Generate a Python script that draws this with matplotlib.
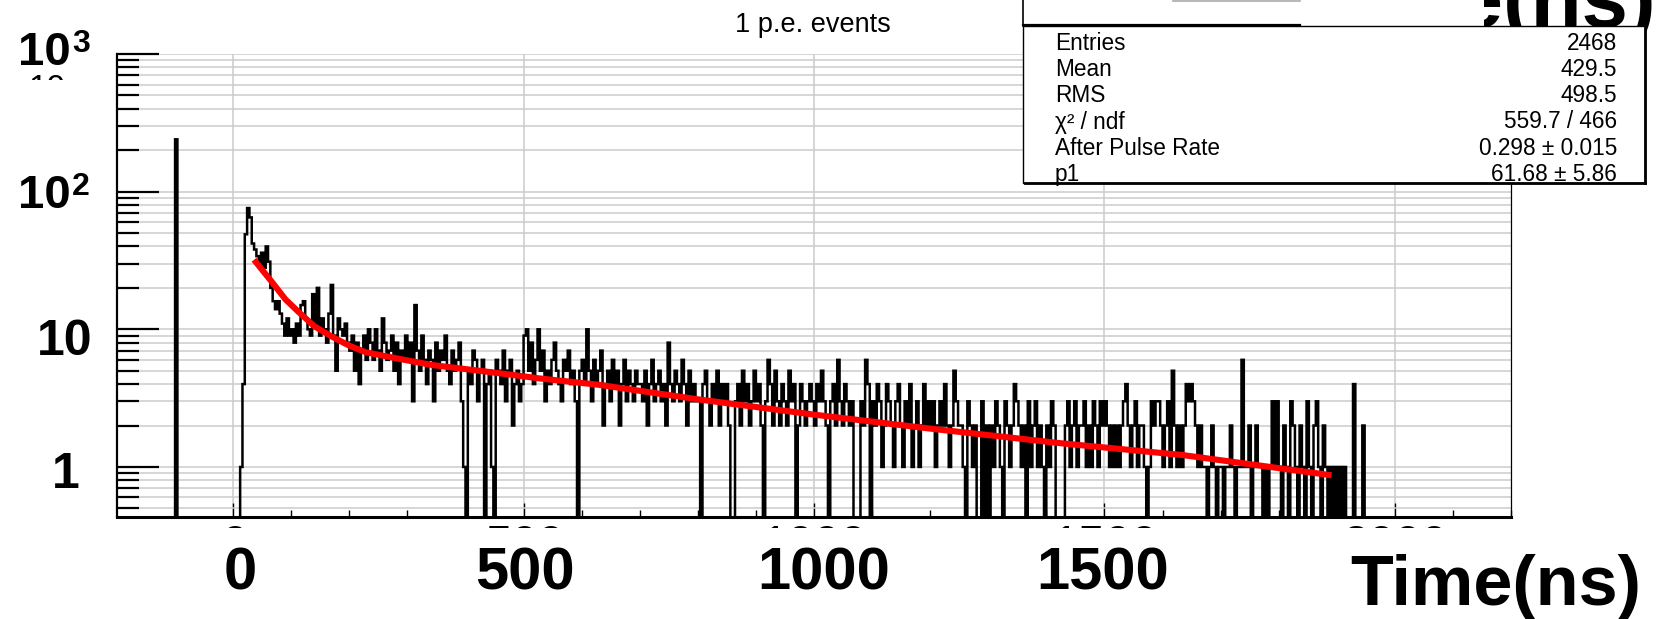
import numpy as np
import matplotlib
matplotlib.use("Agg")
import matplotlib.pyplot as plt
from matplotlib.patches import Rectangle
from matplotlib.lines import Line2D

W, H = 1660, 619
FONT = "Liberation Sans"

# ---------------- data ----------------
bin_width = 4            # ns
first_bin_start = 0      # ns
spike_time = -100        # ns (pre-trigger spike)
spike_count = 240

counts_0000 = [0,0,0,1,4,49,76,65,42,38,34,30,36,28,40,31,20,16,14,16,13,11,9,12,9]
counts_0100 = [10,8,11,9,15,16,12,10,9,18,11,20,9,12,10,8,13,21,9,5,12,10,9,11,8]
counts_0200 = [7,9,5,8,4,7,9,6,10,8,6,10,7,5,12,8,6,7,9,5,8,4,7,6,9]
counts_0300 = [6,8,3,15,7,5,9,6,4,7,6,3,8,5,7,6,9,5,4,7,5,6,8,3,1]
counts_0400 = [0,5,4,7,6,3,5,6,0,4,5,1,0,6,5,4,7,3,5,6,2,4,5,3,4]
counts_0500 = [9,10,5,8,4,6,10,5,7,3,5,4,6,8,5,4,3,6,5,7,4,5,3,0,5]
counts_0600 = [6,4,10,5,3,6,4,5,7,2,4,5,3,6,4,5,2,4,6,3,5,4,3,5,4]
counts_0700 = [4,3,5,2,4,6,3,4,5,3,4,2,8,4,3,5,4,3,6,4,2,5,3,4,3]
counts_0800 = [3,0,4,5,3,2,4,3,5,2,4,3,4,2,0,0,3,4,2,5,3,4,2,3,5]
counts_0900 = [3,4,2,0,3,6,4,2,5,3,2,4,3,2,5,3,4,0,2,4,3,2,3,4,3]
counts_1000 = [2,4,3,5,3,2,0,3,4,2,6,3,2,4,3,2,3,0,0,0,3,2,6,4,0]
counts_1100 = [3,2,4,3,1,2,4,3,2,1,3,4,2,1,3,2,4,1,2,3,1,2,4,2,3]
counts_1200 = [2,3,1,2,3,2,4,2,1,2,5,3,2,2,1,0,3,2,1,2,0,0,3,0,2]
counts_1300 = [0,2,1,3,2,1,0,3,2,1,2,4,3,2,1,2,0,3,1,2,3,1,2,1,0]
counts_1400 = [2,1,3,2,0,0,0,0,2,3,1,2,3,1,2,2,3,1,2,1,3,2,1,3,2]
counts_1500 = [3,2,1,2,1,2,1,2,3,4,2,1,2,3,1,2,2,1,0,1,3,2,3,3,2]
counts_1600 = [1,2,3,1,5,2,1,2,1,2,4,3,4,3,2,1,2,1,1,0,1,2,1,0,1]
counts_1700 = [1,0,1,1,2,1,0,1,1,6,1,1,2,0,1,2,1,1,0,1,0,1,3,1,3]
counts_1800 = [1,0,2,1,0,3,2,1,0,2,1,0,3,1,0,2,3,1,0,2,1,0,1,0,1]
counts_1900 = [0,1,0,1,0,0,0,4,0,0,0,2,0,0,0]

# fit curve (ns, counts)
fit_t = [36, 50, 67, 90, 114, 140, 171, 200, 229, 286, 343, 458, 527, 630,
         800, 1000, 1200, 1423, 1635, 1891]
fit_v = [32, 27, 22, 16.5, 13.2, 10.5, 8.8, 7.6, 6.8, 6.1, 5.5, 4.8, 4.4, 3.95,
         3.1, 2.4, 1.9, 1.49, 1.22, 0.87]

x_tick_labels = ["0", "500", "1000", "1500"]
x_tick_values = [0, 500, 1000, 1500]
x_title = "Time(ns)"
plot_title = "1 p.e. events"
stat_names = ["Entries", "Mean", "RMS", "\u03c7\u00b2 / ndf", "After Pulse Rate", "p1"]
stat_values = ["2468", "429.5", "498.5", "559.7 / 466", "0.298 \u00b1 0.015", "61.68 \u00b1 5.86"]

# ---------------- build histogram ----------------
counts = np.array(counts_0000 + counts_0100 + counts_0200 + counts_0300 + counts_0400 +
                  counts_0500 + counts_0600 + counts_0700 + counts_0800 + counts_0900 +
                  counts_1000 + counts_1100 + counts_1200 + counts_1300 + counts_1400 +
                  counts_1500 + counts_1600 + counts_1700 + counts_1800 + counts_1900,
                  dtype=float)
lo = -200
n_pre = (first_bin_start - lo) // bin_width
pre = np.zeros(n_pre)
pre[(spike_time - lo) // bin_width] = spike_count
allc = np.concatenate([pre, counts, np.zeros(60)])
edges = lo + bin_width * np.arange(len(allc) + 1)
plotc = np.where(allc > 0, allc, 1e-3)

# ---------------- figure ----------------
fig = plt.figure(figsize=(W / 100, H / 100), dpi=100)
fig.patch.set_facecolor("white")

def fx(px):
    return px / W

def fy(py):
    return 1 - py / H

ax_l, ax_r, ax_t, ax_b = 117, 1511, 54, 517
ax = fig.add_axes([fx(ax_l), fy(ax_b), (ax_r - ax_l) / W, (ax_b - ax_t) / H])
ax.set_yscale("log")
ax.set_xlim(-200, 2200)
ax.set_ylim(0.433, 1000)

ax.stairs(plotc, edges, baseline=None, color="black", lw=1.8, zorder=3)
ax.plot(fit_t, fit_v, color="#ff0000", lw=4.4, solid_capstyle="butt", zorder=4)

# ticks / grid
ax.set_xticks([0, 500, 1000, 1500, 2000])
ax.set_xticks(np.arange(-100, 2201, 100), minor=True)
ax.set_yticks([1, 10, 100, 1000])
yminor = [m * 10.0 ** e for e in range(-1, 3) for m in range(2, 10)]
ax.set_yticks([v for v in yminor if 0.433 <= v <= 1000], minor=True)
ax.set_xticklabels([])
ax.set_yticklabels([], minor=False)
ax.set_yticklabels([], minor=True)
ax.set_xticklabels([], minor=True)
ax.grid(True, which="major", axis="x", color="#cccccc", lw=1.1, zorder=0)
ax.grid(True, which="both", axis="y", color="#cccccc", lw=1.1, zorder=0)
ax.set_axisbelow(True)
ax.tick_params(axis="x", which="major", direction="in", length=10, width=1.0,
               top=False, bottom=True)
ax.tick_params(axis="x", which="minor", direction="in", length=5, width=1.0,
               top=False, bottom=True)
ax.tick_params(axis="y", which="major", direction="in", length=30, width=1.6,
               left=True, right=False)
ax.tick_params(axis="y", which="minor", direction="in", length=16, width=1.6,
               left=True, right=False)
ax.spines["top"].set_visible(False)
ax.spines["bottom"].set_linewidth(2.2)
ax.spines["left"].set_linewidth(1.6)
ax.spines["right"].set_linewidth(0.9)

# original (mostly hidden) small x labels
for v, lab in zip([0, 500, 1000, 1500, 2000], ["0", "500", "1000", "1500", "2000"]):
    px = 234 + 0.5805 * v
    fig.text(fx(px), fy(523.5), lab, ha="center", va="top", fontsize=34,
             family=FONT, zorder=1)
fig.patches.append(Rectangle((0, 0), 1, fy(528), transform=fig.transFigure,
                             facecolor="white", edgecolor="none", zorder=2))
# original (mostly hidden) y label under 10^3
fig.text(fx(47), fy(74), "10", ha="center", va="top", fontsize=24,
         family=FONT, zorder=1)
fig.patches.append(Rectangle((0, fy(140)), fx(105), fy(79.5) - fy(140),
                             transform=fig.transFigure, facecolor="white",
                             edgecolor="none", zorder=2))

# big x labels
for cx, lab in zip([240, 525, 824, 1103], x_tick_labels):
    fig.text(fx(cx), fy(589), lab, ha="center", va="baseline", fontsize=43,
             fontweight="bold", family=FONT, zorder=5)
fig.text(fx(1350), fy(605), x_title, ha="left", va="baseline", fontsize=50.5,
         fontweight="bold", family=FONT, zorder=5)

# big y labels
fig.text(fx(71), fy(65), "10", ha="right", va="baseline", fontsize=34,
         fontweight="bold", family=FONT, zorder=5)
fig.text(fx(72), fy(52), "3", ha="left", va="baseline", fontsize=23,
         fontweight="bold", family=FONT, zorder=5)
fig.text(fx(71), fy(208), "10", ha="right", va="baseline", fontsize=34,
         fontweight="bold", family=FONT, zorder=5)
fig.text(fx(72), fy(195), "2", ha="left", va="baseline", fontsize=23,
         fontweight="bold", family=FONT, zorder=5)
fig.text(fx(65), fy(355), "10", ha="center", va="baseline", fontsize=36,
         fontweight="bold", family=FONT, zorder=5)
fig.text(fx(66), fy(488), "1", ha="center", va="baseline", fontsize=36,
         fontweight="bold", family=FONT, zorder=5)

# title
fig.text(fx(813), fy(25), plot_title, ha="center", va="center", fontsize=19.5,
         family=FONT, zorder=5)

# cropped axis title at the very top-right (only its lower part is visible)
fig.text(fx(1656), fy(27), x_title, ha="right", va="baseline", fontsize=60,
         fontweight="bold", family=FONT, zorder=5)
fig.patches.append(Rectangle((fx(1023), fy(26)), fx(1484) - fx(1023), fy(0) - fy(26),
                             transform=fig.transFigure, facecolor="white",
                             edgecolor="none", zorder=5.5))

# stats box
bx0, bx1, by0, by1 = 1023, 1645, 26, 183
fig.patches.append(Rectangle((fx(bx0), fy(by1)), (bx1 - bx0) / W, (by1 - by0) / H,
                             transform=fig.transFigure, facecolor="white",
                             edgecolor="black", lw=1.0, zorder=6))
fig.lines.append(Line2D([fx(bx0 + 2), fx(bx1)], [fy(by1), fy(by1)],
                        transform=fig.transFigure, color="black", lw=2.0, zorder=7))
fig.lines.append(Line2D([fx(bx1), fx(bx1)], [fy(by0 + 2), fy(by1)],
                        transform=fig.transFigure, color="black", lw=2.0, zorder=7))
fig.lines.append(Line2D([fx(bx0), fx(bx0)], [fy(0), fy(by0)],
                        transform=fig.transFigure, color="black", lw=1.2, zorder=7))
fig.lines.append(Line2D([fx(bx0), fx(1300)], [fy(24.5), fy(24.5)],
                        transform=fig.transFigure, color="black", lw=1.6, zorder=7))
fig.lines.append(Line2D([fx(1173), fx(1300)], [fy(0.8), fy(0.8)],
                        transform=fig.transFigure, color="#aaaaaa", lw=1.2, zorder=7))

row_y = [43, 69.5, 96, 122, 148.5, 174.5]
for yy, name, val in zip(row_y, stat_names, stat_values):
    fig.text(fx(1055), fy(yy), name, ha="left", va="center", fontsize=16.3,
             family=FONT, zorder=8)
    fig.text(fx(1617), fy(yy), val, ha="right", va="center", fontsize=16.3,
             family=FONT, zorder=8)

fig.savefig("out.png", dpi=100, facecolor="white")
